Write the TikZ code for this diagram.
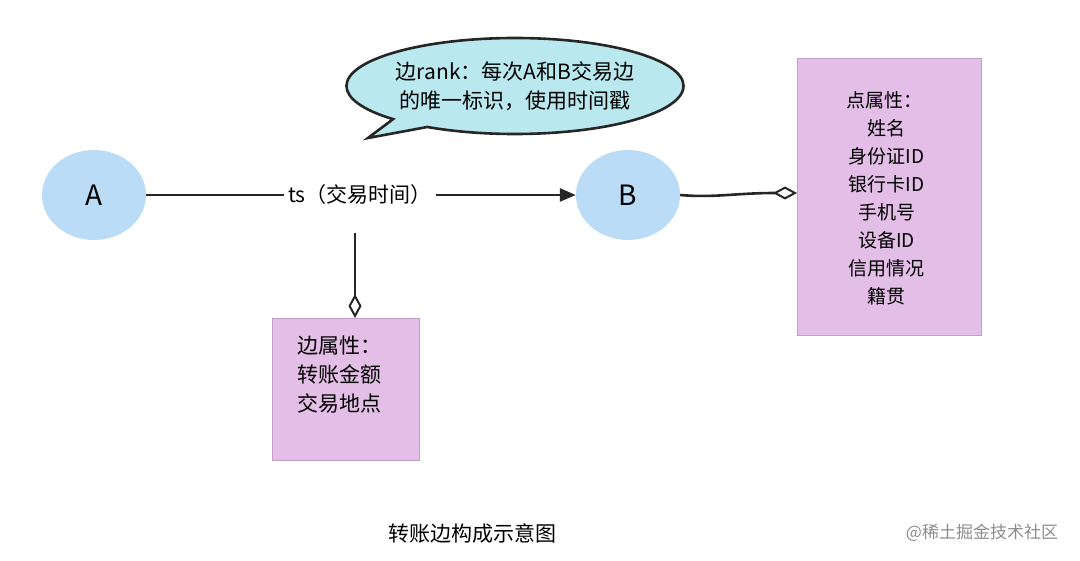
\documentclass[tikz,border=0pt]{standalone}
\usepackage{fontspec}
\setmainfont{Noto Sans CJK SC}
\usetikzlibrary{shapes.geometric,arrows.meta,shapes.callouts}
\definecolor{cblue}{HTML}{BBDCF6}
\definecolor{clav}{HTML}{E3BEE6}
\definecolor{ccyan}{HTML}{B9E8EE}
\tikzset{
 circ/.style={ellipse,fill=cblue,minimum width=104pt,minimum height=90pt,font=\fontsize{28}{30}\selectfont},
 attr/.style={fill=clav,draw=clav!85!black,line width=0.3pt},
 con/.style={line width=2.6pt,black!85},
 dia/.style={-{Diamond[open,length=24pt,width=13pt,line width=2pt]}},
}
\begin{document}
\begin{tikzpicture}[x=1pt,y=-1pt]
\useasboundingbox (0,0) rectangle (1080,561);
\node[circ] (A) at (94,195) {A};
\node[circ] (B) at (628,195) {B};
\node[font=\fontsize{21}{24}\selectfont,inner xsep=4pt] (ts) at (360,195) {ts（交易时间）};
\draw[con] (A) -- (ts);
\draw[con,-{Triangle[length=16pt,width=13pt]}] (ts) -- (B);
\node[attr,minimum width=147pt,minimum height=142pt,anchor=north west] (E) at (272,318) {};
\node[anchor=north west,align=left,font=\fontsize{21}{29}\selectfont] at (294,332) {边属性：\\转账金额\\交易地点};
\node[attr,minimum width=184pt,minimum height=277pt,anchor=north west] (N) at (797,58) {};
\node[align=center,font=\fontsize{19}{28}\selectfont,anchor=north] at (884,88) {点属性：\\\hspace*{5pt}姓名\\\hspace*{5pt}身份证ID\\\hspace*{5pt}银行卡ID\\\hspace*{5pt}手机号\\\hspace*{5pt}设备ID\\\hspace*{5pt}信用情况\\\hspace*{5pt}籍贯};
\coordinate (t) at (355,233);
\draw[con,dia] (t) -- (E.north -| t);
\draw[con,dia] (B.east) .. controls (715,198) and (735,193) .. (N.west |- 0,193);
\node[ellipse callout,fill=ccyan,draw=black!85,line width=2.6pt,minimum width=306pt,minimum height=96pt,callout absolute pointer={(368,138)},align=center,font=\fontsize{21}{29}\selectfont,inner sep=0pt] (bub) at (515,86) {边rank：每次A和B交易边\\的唯一标识，使用时间戳};
\node[font=\fontsize{21}{24}\selectfont] (cap) at (472,533) {转账边构成示意图};
\node[font=\fontsize{17}{20}\selectfont,text=black!45] (wm) at (982,533) {@稀土掘金技术社区};
\end{tikzpicture}
\end{document}
